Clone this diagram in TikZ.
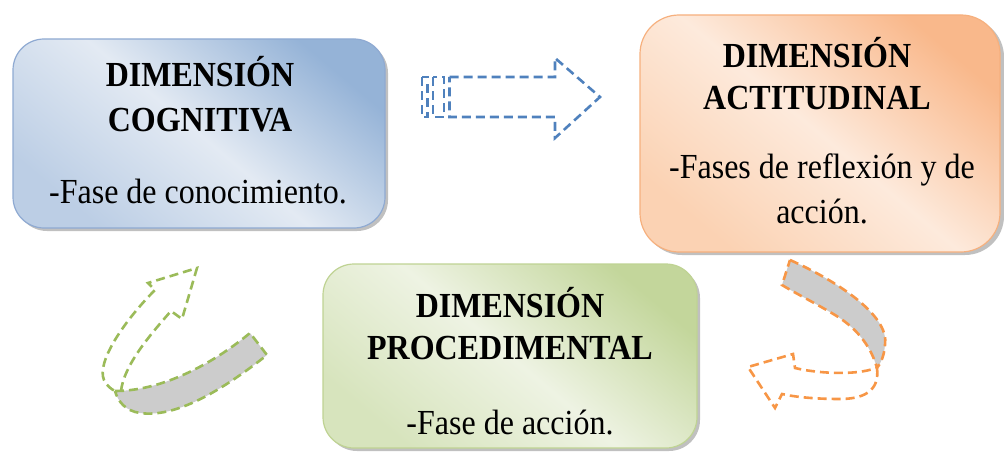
\documentclass[tikz,border=0pt]{standalone}
\usepackage{fontspec}
\setmainfont{Liberation Serif}
\definecolor{blueD}{HTML}{95B3D7}
\definecolor{blueL}{HTML}{E3EAF3}
\definecolor{blueM}{HTML}{BCCEE5}
\definecolor{blueBd}{HTML}{8FAAD2}
\definecolor{oraD}{HTML}{F9B88B}
\definecolor{oraL}{HTML}{FDEADC}
\definecolor{oraM}{HTML}{FBD2B3}
\definecolor{oraBd}{HTML}{F6B07E}
\definecolor{grnD}{HTML}{C3D69B}
\definecolor{grnL}{HTML}{EEF3E3}
\definecolor{grnM}{HTML}{D7E4BD}
\definecolor{grnBd}{HTML}{BFD393}
\definecolor{arrBlue}{HTML}{4F81BD}
\definecolor{arrGrn}{HTML}{9BBB59}
\definecolor{arrOra}{HTML}{F79646}
\definecolor{band}{HTML}{CCCCCC}
\newcommand{\tallx}[1]{\scalebox{1}[1.1]{#1}}
\begin{document}
\begin{tikzpicture}[x=1pt,y=-1pt,
  boxshadow/.style={fill=black!45, opacity=.55},
  ttl/.style={font=\fontsize{32}{38}\selectfont\bfseries, anchor=base, inner sep=0pt},
  txt/.style={font=\fontsize{32}{38}\selectfont, anchor=base, inner sep=0pt},
  dsh/.style={line width=2.6pt, dash pattern=on 9pt off 5pt, line join=miter},
]
\useasboundingbox (0,0) rectangle (1004,452);

% ---------- blue box ----------
\fill[boxshadow, rounded corners=31pt] (16,42) rectangle (388,231);
\draw[line width=1.2pt, draw=blueBd, top color=blueD, bottom color=blueM, middle color=blueL, shading angle=-40, rounded corners=31pt] (13,39) rectangle (385,228);
\node[ttl] (c1) at (200,87) {\tallx{DIMENSIÓN}};
\node[ttl] (c2) at (200,131) {\tallx{COGNITIVA}};
\node[txt] (c3) at (198,203) {\tallx{-Fase de conocimiento.}};

% ---------- orange box ----------
\fill[boxshadow, rounded corners=39pt] (643,18) rectangle (1004,255);
\draw[line width=1.2pt, draw=oraBd, top color=oraD, bottom color=oraM, middle color=oraL, shading angle=-40, rounded corners=39pt] (640,15) rectangle (1000,252);
\node[ttl] (a1) at (817,67) {\tallx{DIMENSIÓN}};
\node[ttl] (a2) at (817,110) {\tallx{ACTITUDINAL}};
\node[txt] (a3) at (822,178) {\tallx{-Fases de reflexión y de}};
\node[txt] (a4) at (822,223) {\tallx{acción.}};

% ---------- green box ----------
\fill[boxshadow, rounded corners=31pt] (326,267) rectangle (700,451);
\draw[line width=1.2pt, draw=grnBd, top color=grnD, bottom color=grnM, middle color=grnL, shading angle=-40, rounded corners=31pt] (323,264) rectangle (697,448);
\node[ttl] (p1) at (510,317) {\tallx{DIMENSIÓN}};
\node[ttl] (p2) at (510,359) {\tallx{PROCEDIMENTAL}};
\node[txt] (p3) at (510,434) {\tallx{-Fase de acción.}};

% ---------- blue striped arrow ----------
\draw[dsh, draw=arrBlue] (422,77) rectangle (427.5,117);
\draw[dsh, draw=arrBlue] (433,77) rectangle (444,117);
\draw[dsh, draw=arrBlue] (449.5,77) -- (555,77) -- (555,58) -- (600,97) -- (555,138) -- (555,117) -- (449.5,117) -- cycle;

% ---------- green curved arrow ----------
\filldraw[dsh, draw=arrGrn, fill=band]
  (115,391) .. controls (160,391) and (210,366) .. (250,333)
  -- (267,355)
  .. controls (220,392) and (175,418) .. (140,413)
  .. controls (126,411) and (118,402) .. (115,391) -- cycle;
\draw[dsh, draw=arrGrn]
  (121,391) .. controls (124,365) and (150,335) .. (171,311)
  -- (182,319) -- (197,268) -- (148,283) -- (155,290)
  .. controls (125,320) and (96,362) .. (104,380)
  .. controls (107,386) and (111,389) .. (115,391);

% ---------- orange curved arrow ----------
\filldraw[dsh, draw=arrOra, fill=band]
  (790,260) .. controls (835,280) and (890,315) .. (885,345)
  .. controls (884,356) and (881,363) .. (877,368)
  .. controls (872,350) and (860,330) .. (835,315)
  .. controls (815,303) and (795,293) .. (782,285) -- cycle;
\draw[dsh, draw=arrOra]
  (877,368) .. controls (880,392) and (862,399) .. (840,399)
  .. controls (815,399) and (795,397) .. (782,394)
  -- (775,408) -- (748,367) -- (793,354) -- (795,368)
  .. controls (815,373) and (855,376) .. (876,368);
\end{tikzpicture}
\end{document}
